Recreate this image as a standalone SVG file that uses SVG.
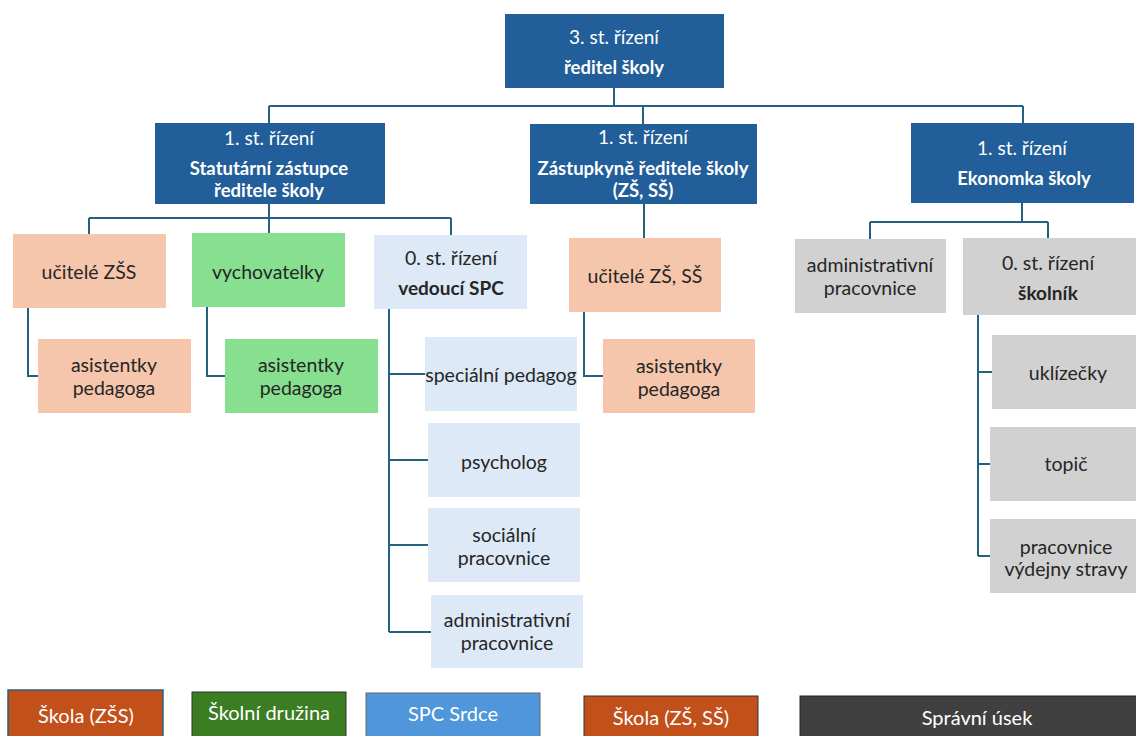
<svg xmlns="http://www.w3.org/2000/svg" width="1136" height="736" viewBox="0 0 1136 736">
<style>
text{font-family:Lato,"Open Sans","Liberation Sans",sans-serif;text-anchor:middle;dominant-baseline:central}
.dk rect{fill:#225E99}
.dk text{fill:#fff;font-size:19px}
.dk .b{font-weight:bold;font-size:18.5px}
.pe rect{fill:#F6C6AC}
.gr rect{fill:#86E08F}
.lb rect{fill:#DDE9F6}
.gy rect{fill:#D1D1D1}
.n text{fill:#262626;font-size:19.5px}
.n .b{font-weight:bold;font-size:19px}
.lg text{fill:#fff;font-size:20px}
.con path{fill:none;stroke:#24627F;stroke-width:2}
</style>
<rect width="1136" height="736" fill="#fff"/>
<g class="con">
<path d="M614 88V106M269 106H1023M269 106V123M643 106V124M1023 106V123"/>
<path d="M269 204V218M89 218H451M89 218V234M269 218V233M451 218V235"/>
<path d="M644 204V238"/>
<path d="M1022 203V222M870 222H1048M870 222V239M1048 222V238"/>
<path d="M28 308V376H38"/>
<path d="M207 307V376H225"/>
<path d="M389 309V632M389 374H425M389 460H428M389 545H428M389 632H431"/>
<path d="M584 312V376H603"/>
<path d="M978 315V556M978 372H992M978 464H990M978 556H990"/>
</g>
<g id="reditel" class="dk"><rect x="505" y="14" width="219" height="74"/><text x="614" y="36">3. st. řízení</text><text class="b" x="614" y="67">ředitel školy</text></g>
<g id="statutarni" class="dk"><rect x="155" y="123" width="230" height="81"/><text x="269" y="137">1. st. řízení</text><text class="b" x="269" y="168">Statutární zástupce</text><text class="b" x="269" y="190">ředitele školy</text></g>
<g id="zastupkyne" class="dk"><rect x="530" y="124" width="227" height="80"/><text x="643" y="136">1. st. řízení</text><text class="b" x="643" y="168">Zástupkyně ředitele školy</text><text class="b" x="643" y="190">(ZŠ, SŠ)</text></g>
<g id="ekonomka" class="dk"><rect x="911" y="123" width="223" height="80"/><text x="1022" y="147">1. st. řízení</text><text class="b" x="1024" y="178">Ekonomka školy</text></g>
<g id="ucitele-zss" class="n pe"><rect x="13" y="234" width="153" height="74"/><text x="89" y="271">učitelé ZŠS</text></g>
<g id="vychovatelky" class="n gr"><rect x="192" y="233" width="153" height="74"/><text x="268" y="271">vychovatelky</text></g>
<g id="vedouci-spc" class="n lb"><rect x="374" y="235" width="153" height="74"/><text x="451" y="257">0. st. řízení</text><text class="b" x="451" y="287">vedoucí SPC</text></g>
<g id="ucitele-zs-ss" class="n pe"><rect x="569" y="238" width="152" height="74"/><text x="645" y="275">učitelé ZŠ, SŠ</text></g>
<g id="admin-ek" class="n gy"><rect x="795" y="239" width="151" height="74"/><text x="870" y="264">administrativní</text><text x="870" y="287">pracovnice</text></g>
<g id="skolnik" class="n gy"><rect x="963" y="238" width="173" height="77"/><text x="1048" y="262">0. st. řízení</text><text class="b" x="1048" y="292">školník</text></g>
<g id="asist-1" class="n pe"><rect x="38" y="339" width="153" height="74"/><text x="114" y="364">asistentky</text><text x="114" y="387">pedagoga</text></g>
<g id="asist-2" class="n gr"><rect x="225" y="339" width="153" height="74"/><text x="301" y="364">asistentky</text><text x="301" y="387">pedagoga</text></g>
<g id="asist-3" class="n pe"><rect x="603" y="339" width="152" height="74"/><text x="679" y="365">asistentky</text><text x="679" y="388">pedagoga</text></g>
<g id="specialni" class="n lb"><rect x="425" y="337" width="152" height="74"/><text x="501" y="374">speciální pedagog</text></g>
<g id="psycholog" class="n lb"><rect x="428" y="423" width="152" height="74"/><text x="504" y="461">psycholog</text></g>
<g id="socialni" class="n lb"><rect x="428" y="508" width="152" height="74"/><text x="504" y="534">sociální</text><text x="504" y="557">pracovnice</text></g>
<g id="admin-spc" class="n lb"><rect x="431" y="595" width="152" height="73"/><text x="507" y="619">administrativní</text><text x="507" y="642">pracovnice</text></g>
<g id="uklizecky" class="n gy"><rect x="992" y="335" width="152" height="74"/><text x="1068" y="372">uklízečky</text></g>
<g id="topic" class="n gy"><rect x="990" y="427" width="152" height="74"/><text x="1066" y="463">topič</text></g>
<g id="vydejna" class="n gy"><rect x="990" y="519" width="152" height="74"/><text x="1066" y="546">pracovnice</text><text x="1066" y="568">výdejny stravy</text></g>
<g id="legend-zss" class="lg"><rect x="8" y="690" width="155" height="60" fill="#C2501A" stroke="#2E5F7E" stroke-width="1.5"/><text x="86" y="715">Škola (ZŠS)</text></g>
<g id="legend-druzina" class="lg"><rect x="192" y="692" width="154" height="60" fill="#3A7D22" stroke="#333" stroke-width="1"/><text x="269" y="712">Školní družina</text></g>
<g id="legend-spc" class="lg"><rect x="366" y="693" width="174" height="60" fill="#5096DA" stroke="#666" stroke-width="1"/><text x="453" y="713">SPC Srdce</text></g>
<g id="legend-zs-ss" class="lg"><rect x="584" y="696" width="174" height="60" fill="#C2501A" stroke="#333" stroke-width="1"/><text x="671" y="717">Škola (ZŠ, SŠ)</text></g>
<g id="legend-spravni" class="lg"><rect x="800" y="696" width="340" height="60" fill="#404040" stroke="#222" stroke-width="1"/><text x="977" y="717">Správní úsek</text></g>
</svg>
